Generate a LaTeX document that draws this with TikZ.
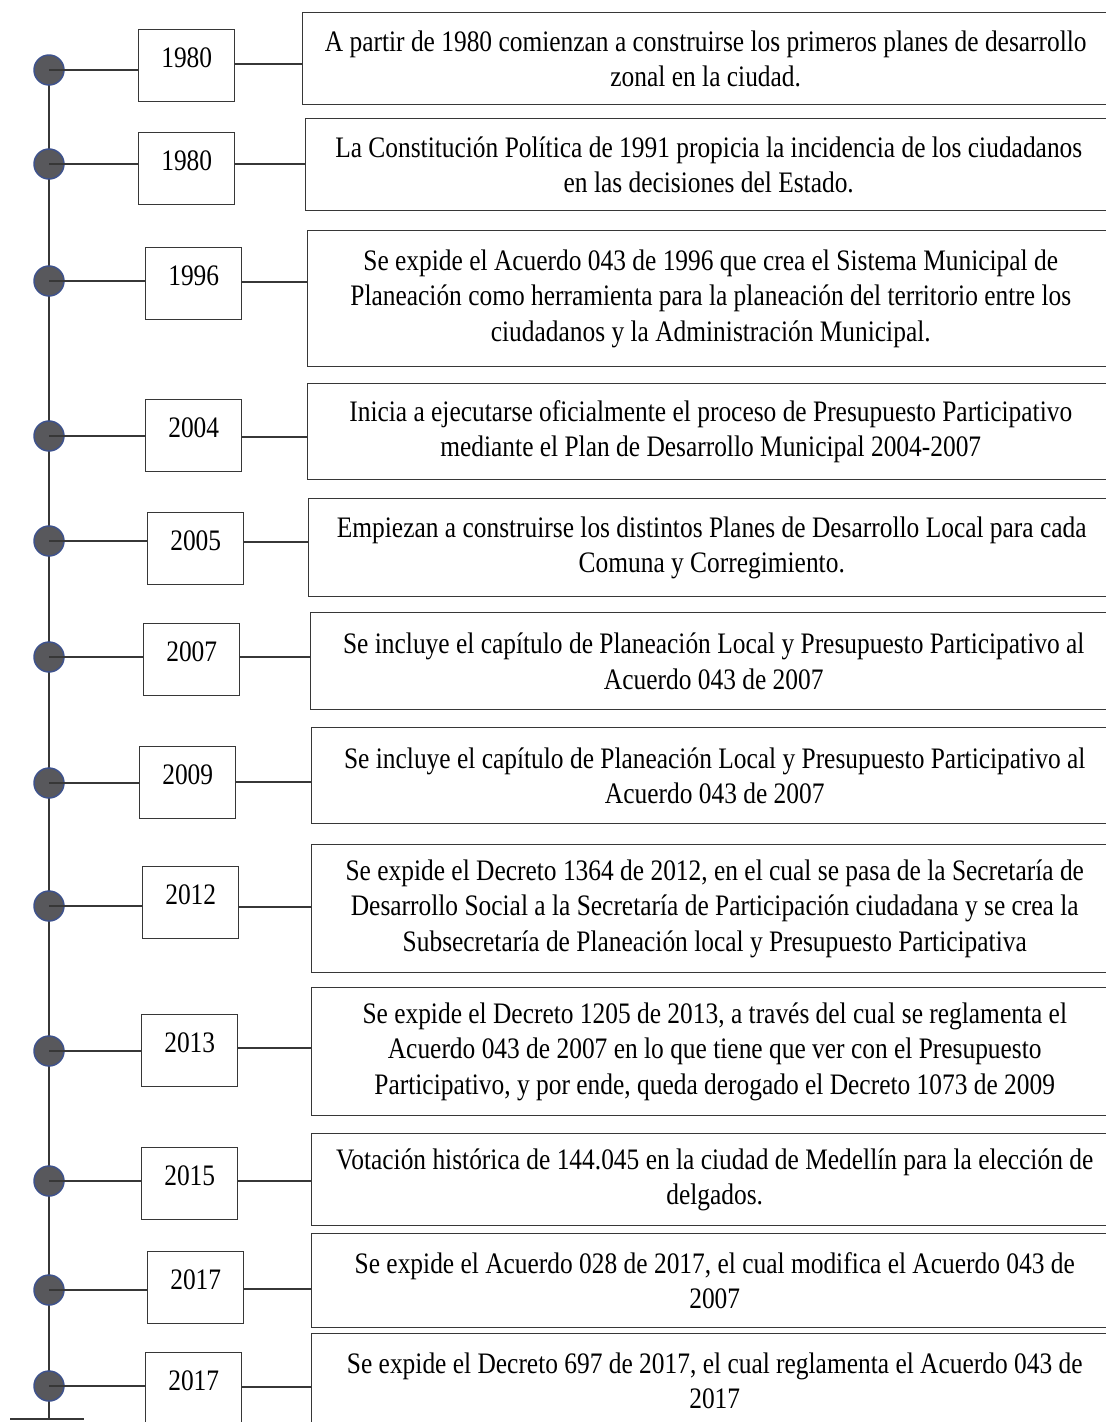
\documentclass[tikz,border=0pt]{standalone}
\usepackage{fontspec}
\setmainfont{Liberation Serif}[FakeStretch=0.855]
\usetikzlibrary{backgrounds}
\definecolor{lin}{RGB}{55,55,55}
\definecolor{dotfill}{RGB}{88,88,92}
\definecolor{dotedge}{RGB}{62,82,140}
\tikzset{
  yearbox/.style={draw=lin, line width=1.1pt, inner sep=0pt, anchor=north west,
    minimum width={96*0.75pt}, text height={38*0.75pt}, text depth={34*0.75pt},
    font=\fontsize{22.3}{26.6}\selectfont},
  eventbox/.style={draw=lin, line width=1.1pt, inner sep=0pt, anchor=north west,
    minimum width={806*0.75pt}, align=center, font=\fontsize{22.3}{26.6}\selectfont},
  tdot/.style={circle, fill=dotfill, draw=dotedge, line width=1.1pt,
    minimum size={30*0.75pt}, inner sep=0pt},
  conn/.style={draw=lin, line width=1.1pt},
}
\begin{document}
\begin{tikzpicture}[x=0.75pt,y=-0.75pt]
\useasboundingbox (0,0) rectangle (1106,1422);
\clip (0,0) rectangle (1106,1422);

% dots
\node[tdot] (d1) at (49,70) {};
\node[tdot] (d2) at (49,164) {};
\node[tdot] (d3) at (49,281) {};
\node[tdot] (d4) at (49,436) {};
\node[tdot] (d5) at (49,541) {};
\node[tdot] (d6) at (49,657) {};
\node[tdot] (d7) at (49,783) {};
\node[tdot] (d8) at (49,906) {};
\node[tdot] (d9) at (49,1051) {};
\node[tdot] (d10) at (49,1181) {};
\node[tdot] (d11) at (49,1290) {};
\node[tdot] (d12) at (49,1386) {};

% year boxes
\node[yearbox] (y1) at (138,29) {1980\hspace{6pt}};
\node[yearbox] (y2) at (138,132) {1980\hspace{6pt}};
\node[yearbox] (y3) at (145,247) {1996\hspace{6pt}};
\node[yearbox] (y4) at (145,399) {2004\hspace{6pt}};
\node[yearbox] (y5) at (147,512) {2005\hspace{6pt}};
\node[yearbox] (y6) at (143,623) {2007\hspace{6pt}};
\node[yearbox] (y7) at (139,746) {2009\hspace{6pt}};
\node[yearbox] (y8) at (142,866) {2012\hspace{6pt}};
\node[yearbox] (y9) at (141,1014) {2013\hspace{6pt}};
\node[yearbox] (y10) at (141,1147) {2015\hspace{6pt}};
\node[yearbox] (y11) at (147,1251) {2017\hspace{6pt}};
\node[yearbox] (y12) at (145,1352) {2017\hspace{6pt}};

% event boxes
\node[eventbox, minimum height={92*0.75pt}] (t1) at (302,12)
  {A partir de 1980 comienzan a construirse los primeros planes de desarrollo\\zonal en la ciudad.};
\node[eventbox, minimum height={92*0.75pt}] (t2) at (305,118)
  {La Constitución Política de 1991 propicia la incidencia de los ciudadanos\\en las decisiones del Estado.};
\node[eventbox, minimum height={136*0.75pt}] (t3) at (307,230)
  {Se expide el Acuerdo 043 de 1996 que crea el Sistema Municipal de\\Planeación como herramienta para la planeación del territorio entre los\\ciudadanos y la Administración Municipal.};
\node[eventbox, minimum height={96*0.75pt}] (t4) at (307,383)
  {Inicia a ejecutarse oficialmente el proceso de Presupuesto Participativo\\mediante el Plan de Desarrollo Municipal 2004-2007};
\node[eventbox, minimum height={98*0.75pt}] (t5) at (308,498)
  {Empiezan a construirse los distintos Planes de Desarrollo Local para cada\\Comuna y Corregimiento.};
\node[eventbox, minimum height={97*0.75pt}] (t6) at (310,612)
  {Se incluye el capítulo de Planeación Local y Presupuesto Participativo al\\Acuerdo 043 de 2007};
\node[eventbox, minimum height={96*0.75pt}] (t7) at (311,727)
  {Se incluye el capítulo de Planeación Local y Presupuesto Participativo al\\Acuerdo 043 de 2007};
\node[eventbox, minimum height={128*0.75pt}] (t8) at (311,844)
  {Se expide el Decreto 1364 de 2012, en el cual se pasa de la Secretaría de\\Desarrollo Social a la Secretaría de Participación ciudadana y se crea la\\Subsecretaría de Planeación local y Presupuesto Participativa};
\node[eventbox, minimum height={128*0.75pt}] (t9) at (311,987)
  {Se expide el Decreto 1205 de 2013, a través del cual se reglamenta el\\Acuerdo 043 de 2007 en lo que tiene que ver con el Presupuesto\\Participativo, y por ende, queda derogado el Decreto 1073 de 2009};
\node[eventbox, minimum height={92*0.75pt}] (t10) at (311,1133)
  {Votación histórica de 144.045 en la ciudad de Medellín para la elección de\\delgados.};
\node[eventbox, minimum height={94*0.75pt}] (t11) at (311,1233)
  {Se expide el Acuerdo 028 de 2017, el cual modifica el Acuerdo 043 de\\2007};
\node[eventbox, minimum height={94*0.75pt}] (t12) at (311,1333)
  {Se expide el Decreto 697 de 2017, el cual reglamenta el Acuerdo 043 de\\2017};

% axis
\coordinate (vb) at (49,1419);
\coordinate (bl) at (10,1419);
\coordinate (br) at (84,1419);
\begin{scope}[on background layer]
  \fill[white] (0,0) rectangle (1106,1422);
  \draw[conn] (d1.center) -- (vb);
\end{scope}
\draw[conn] (bl) -- (br);

% dot to year box
\foreach \i in {1,...,12} {
  \draw[conn] (d\i.center) -- (d\i.center -| y\i.west);
}

% year box to event box
\coordinate (k1) at (0,64);
\coordinate (k2) at (0,164);
\coordinate (k3) at (0,282);
\coordinate (k4) at (0,437);
\coordinate (k5) at (0,542);
\coordinate (k6) at (0,657);
\coordinate (k7) at (0,782);
\coordinate (k8) at (0,907);
\coordinate (k9) at (0,1048);
\coordinate (k10) at (0,1181);
\coordinate (k11) at (0,1289);
\coordinate (k12) at (0,1387);
\foreach \i in {1,...,12} {
  \draw[conn] (y\i.east |- k\i) -- (t\i.west |- k\i);
}
\end{tikzpicture}
\end{document}
